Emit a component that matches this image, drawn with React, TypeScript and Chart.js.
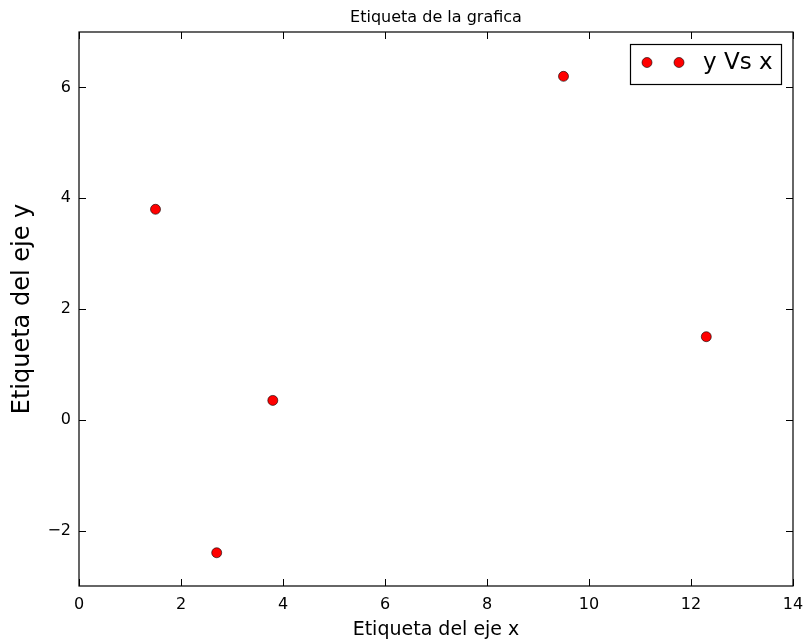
import React, { useEffect, useRef } from "react";
import { Chart, registerables } from "chart.js";

Chart.register(...registerables);

const xValues = [1.5, 2.7, 3.8, 9.5, 12.3];
const yValues = [3.8, -2.4, 0.35, 6.2, 1.5];
const xTicks = [0, 2, 4, 6, 8, 10, 12, 14];
const yTicks = [-2, 0, 2, 4, 6];
const seriesLabel = "y Vs x";
const chartTitle = "Etiqueta de la grafica";
const xTitle = "Etiqueta del eje x";
const yTitle = "Etiqueta del eje y";

const FONT = "'DejaVu Sans', sans-serif";
const fmt = (v: number) => (v < 0 ? "\u2212" + Math.abs(v) : String(v));

const framePlugin = {
  id: "frame",
  afterDraw(chart: any) {
    const { ctx, chartArea: a, scales } = chart;
    const xs = scales.x;
    const ys = scales.y;
    ctx.save();
    ctx.strokeStyle = "#000";
    ctx.lineWidth = 1;
    const L = 7;
    ctx.beginPath();
    xTicks.forEach((v) => {
      const px = Math.round(xs.getPixelForValue(v)) + 0.5;
      ctx.moveTo(px, a.bottom);
      ctx.lineTo(px, a.bottom - L);
      ctx.moveTo(px, a.top);
      ctx.lineTo(px, a.top + L);
    });
    yTicks.forEach((v) => {
      const py = Math.round(ys.getPixelForValue(v)) + 0.5;
      ctx.moveTo(a.left, py);
      ctx.lineTo(a.left + L, py);
      ctx.moveTo(a.right, py);
      ctx.lineTo(a.right - L, py);
    });
    ctx.stroke();
    ctx.lineWidth = 1.2;
    ctx.strokeRect(a.left, a.top, a.right - a.left, a.bottom - a.top);
    ctx.fillStyle = "#000";
    ctx.font = "16px " + FONT;
    ctx.textAlign = "center";
    ctx.textBaseline = "middle";
    ctx.fillText(chartTitle, (a.left + a.right) / 2, 18);
    const ds = chart.data.datasets[0];
    const lx = 630, ly = 44, lw = 151, lh = 40;
    ctx.fillStyle = "#fff";
    ctx.fillRect(lx, ly, lw, lh);
    ctx.lineWidth = 1.2;
    ctx.strokeStyle = "#000";
    ctx.strokeRect(lx + 0.5, ly + 0.5, lw, lh);
    [647, 679].forEach((mx) => {
      ctx.beginPath();
      ctx.arc(mx, ly + 18.5, 5, 0, Math.PI * 2);
      ctx.fillStyle = ds.backgroundColor;
      ctx.fill();
      ctx.lineWidth = 0.6;
      ctx.strokeStyle = "#000";
      ctx.stroke();
    });
    ctx.fillStyle = "#000";
    ctx.font = "23px " + FONT;
    ctx.textAlign = "left";
    ctx.textBaseline = "middle";
    ctx.fillText(ds.label, 703, ly + 19);
    ctx.restore();
  },
};

export default function App() {
  const ref = useRef<HTMLCanvasElement>(null);
  useEffect(() => {
    const chart = new Chart(ref.current!, {
      type: "scatter",
      data: {
        datasets: [
          {
            label: seriesLabel,
            data: xValues.map((x, i) => ({ x, y: yValues[i] })),
            backgroundColor: "#ff0000",
            borderColor: "#000000",
            borderWidth: 0.6,
            pointRadius: 5,
          },
        ],
      },
      options: {
        animation: false,
        responsive: false,
        events: [],
        layout: { padding: { top: 32, right: 13, left: 0, bottom: 0 } },
        plugins: { legend: { display: false }, title: { display: false }, tooltip: { enabled: false } },
        scales: {
          x: {
            type: "linear",
            min: 0,
            max: 14,
            afterBuildTicks: (s: any) => {
              s.ticks = xTicks.map((v) => ({ value: v }));
            },
            afterFit: (s: any) => {
              s.height = 55;
              s.paddingLeft = 0;
              s.paddingRight = 0;
            },
            grid: { display: false, drawTicks: false },
            border: { display: false },
            ticks: {
              padding: 9,
              color: "#000",
              font: { family: FONT, size: 16 },
              callback: (v: any) => fmt(Number(v)),
              maxRotation: 0,
            },
            title: {
              display: true,
              text: xTitle,
              color: "#000",
              font: { family: FONT, size: 19 },
              padding: { top: 0, bottom: 0 },
            },
          },
          y: {
            type: "linear",
            min: -3,
            max: 7,
            afterBuildTicks: (s: any) => {
              s.ticks = yTicks.map((v) => ({ value: v }));
            },
            afterFit: (s: any) => {
              s.width = 79;
              s.paddingTop = 0;
              s.paddingBottom = 0;
            },
            grid: { display: false, drawTicks: false },
            border: { display: false },
            ticks: {
              padding: 8,
              color: "#000",
              font: { family: FONT, size: 16 },
              callback: (v: any) => fmt(Number(v)),
            },
            title: {
              display: true,
              text: yTitle,
              color: "#000",
              font: { family: FONT, size: 24 },
              padding: { top: 8, bottom: 0 },
            },
          },
        },
      },
      plugins: [framePlugin],
    } as any);
    return () => chart.destroy();
  }, []);
  return (
    <div style={{ position: "absolute", left: 0, top: 0, width: 806, height: 641, background: "#fff" }}>
      <canvas ref={ref} width={806} height={641} style={{ width: 806, height: 641 }} />
    </div>
  );
}
